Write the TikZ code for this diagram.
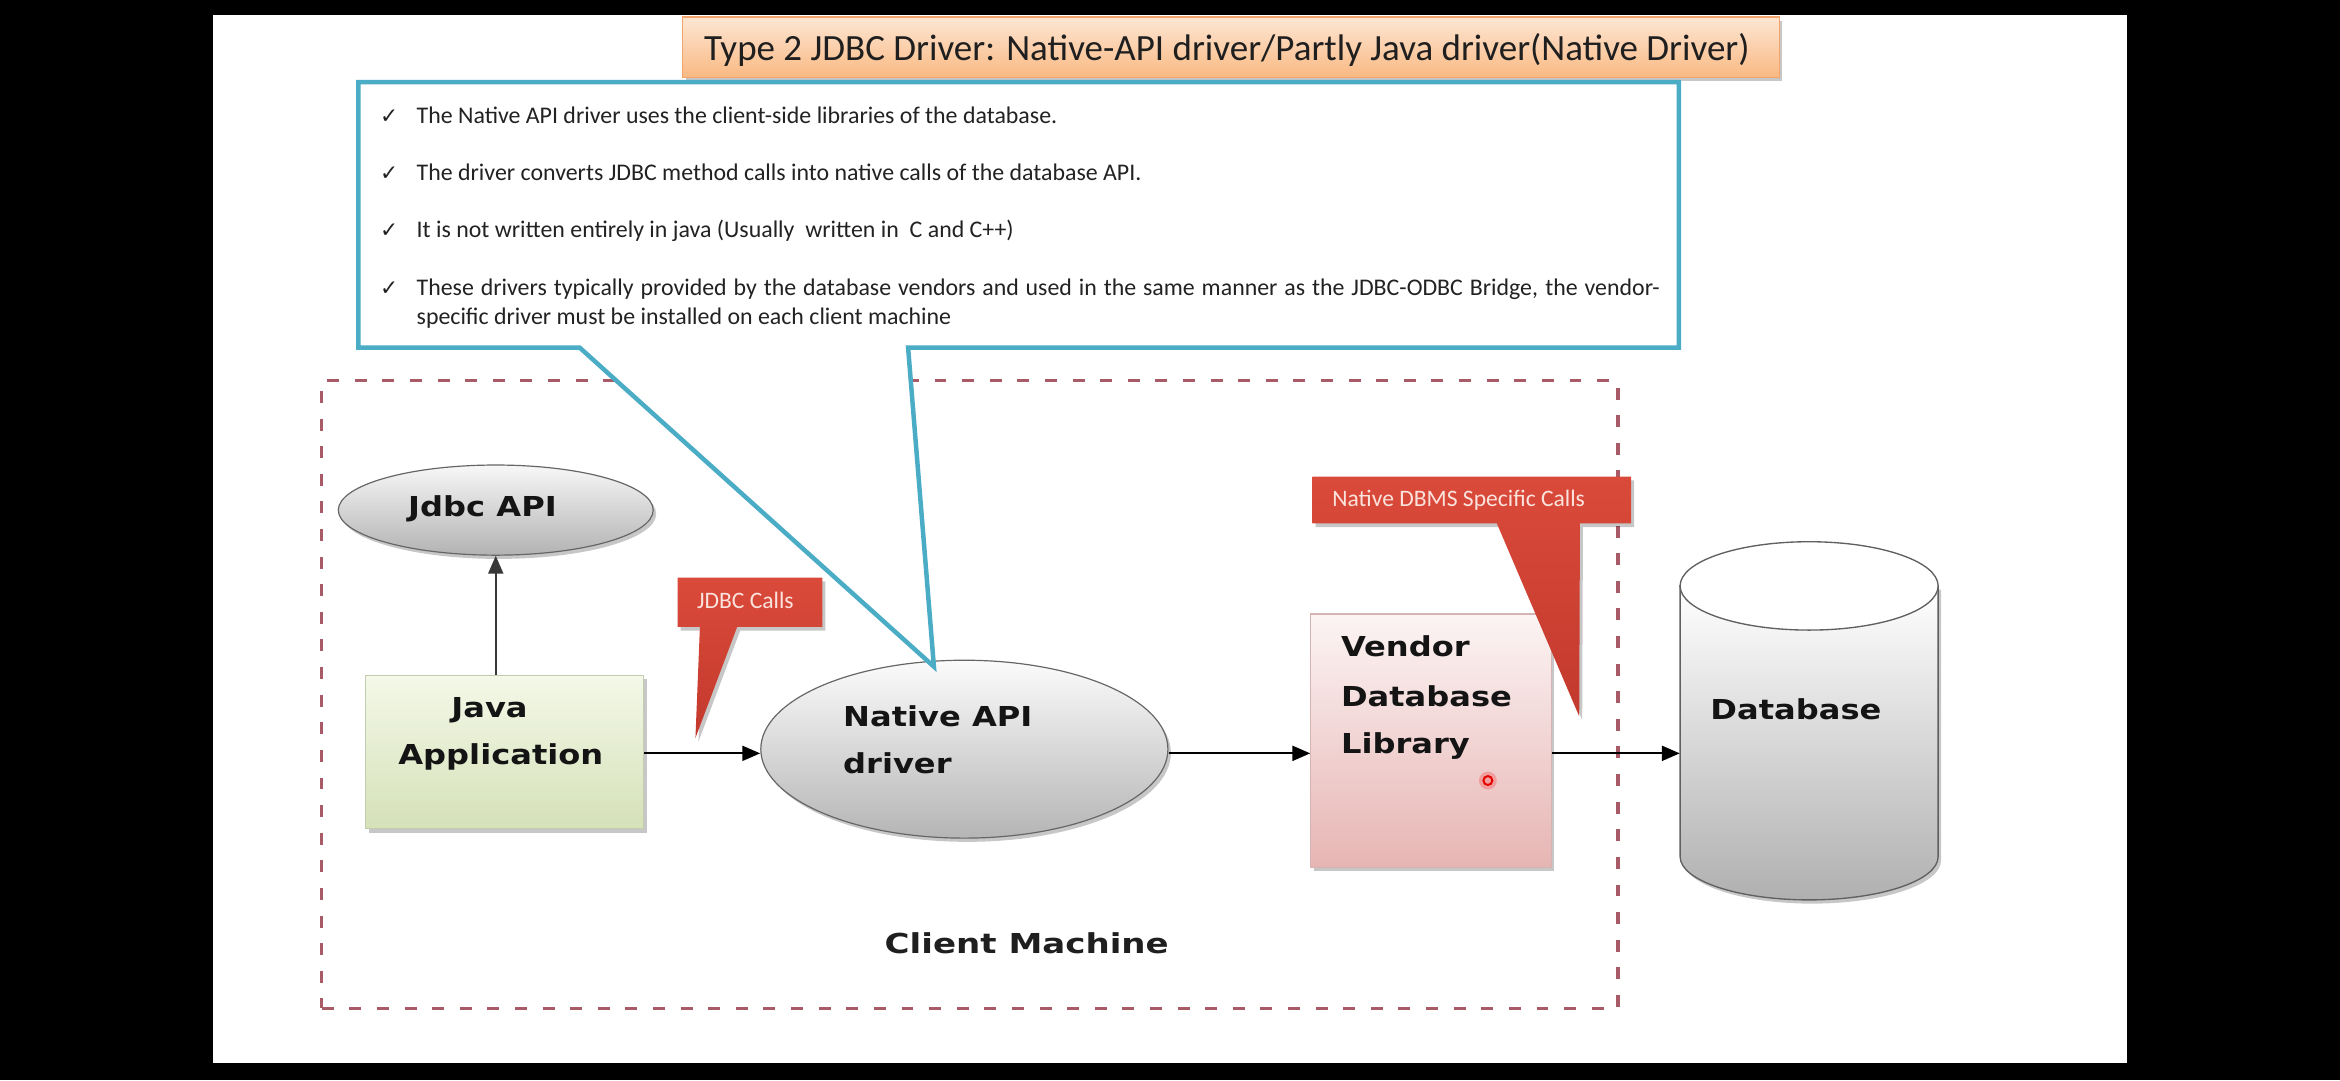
\documentclass[tikz,border=0pt]{standalone}
\usepackage{fontspec}
\setmainfont{Carlito}
\newfontfamily\lblfont{DejaVu Sans}[FakeStretch=1.17]
\newfontfamily\cmfont{DejaVu Sans}[FakeStretch=1.24]
\newfontfamily\chkfont{DejaVu Sans}
\usetikzlibrary{arrows.meta,shapes.geometric,shadows}
\definecolor{calblue}{HTML}{4BACC6}
\definecolor{calred}{HTML}{DA4A3A}
\definecolor{calreddark}{HTML}{C2392D}
\definecolor{redtext}{HTML}{FBE3DD}
\definecolor{dashred}{HTML}{A85A66}
\definecolor{titletop}{HTML}{FDE6D3}
\definecolor{titlebot}{HTML}{F9B983}
\definecolor{titleedge}{HTML}{F2A46A}
\definecolor{greentop}{HTML}{F4F8E8}
\definecolor{greenbot}{HTML}{D5E1B8}
\definecolor{greenedge}{HTML}{C4CCB0}
\definecolor{pinktop}{HTML}{FCF4F4}
\definecolor{pinkbot}{HTML}{E6B5B3}
\definecolor{pinkedge}{HTML}{D6B4B3}
\definecolor{txt}{HTML}{222222}
\begin{document}
\begin{tikzpicture}[x=1pt,y=-1pt,
  shadowed/.style={drop shadow={shadow xshift=2pt,shadow yshift=-2.5pt,opacity=0.22,fill=black}},
  lbl/.style={font=\lblfont\bfseries\fontsize{18.4pt}{22pt}\selectfont, text=black!92, inner sep=0pt},
  bullettxt/.style={font=\fontsize{16pt}{19.4pt}\selectfont, text=txt, inner sep=0pt, anchor=base west},
  chk/.style={font=\chkfont\fontsize{14.5pt}{16pt}\selectfont, text=txt, inner sep=0pt, anchor=base west},
  redtxt/.style={font=\fontsize{15.8pt}{19pt}\selectfont, text=redtext, inner sep=0pt, anchor=base west},
  redcall/.style={top color=calred, bottom color=calreddark, draw=none, shadowed},
  conn/.style={-{Triangle[length=12pt,width=10pt]}, line width=1.5pt, draw=black},
  grayell/.style={ellipse, draw=gray!80!black, line width=0.8pt, top color=gray!6, bottom color=gray!60, inner sep=0pt, shadowed},
]
\useasboundingbox (0,0) rectangle (1568,724);
\fill[black] (0,0) rectangle (1568,724);
\fill[white] (143,10) rectangle (1425,712);

% client machine frame
\node[draw=dashred, dash pattern=on 8pt off 10.5pt, line width=2.2pt, minimum width=868.5pt, minimum height=420.6pt, inner sep=0pt, anchor=north west] (client) at (214.5,254) {};
\node[font=\cmfont\bfseries\fontsize{18.4pt}{22pt}\selectfont, text=black!88, anchor=base, inner sep=0pt] (clientT) at (688,638.8) {Client Machine};

% title
\node[draw=titleedge, line width=0.8pt, top color=titletop, bottom color=titlebot, minimum width=735pt, minimum height=40.5pt, inner sep=0pt, anchor=north west, shadowed] (title) at (457,11) {};
\node[font=\fontsize{24.8pt}{30pt}\selectfont, text=black!88, anchor=base, inner sep=0pt] (titleT) at (822,40.2) {Type 2 JDBC Driver: Native-API driver/Partly Java driver(Native Driver)};

% diagram nodes
\node[grayell, minimum width=211pt, minimum height=60.4pt] (jdbc) at (332.2,341.8) {};
\node[lbl, anchor=base] (jdbcT) at (323.3,346.2) {Jdbc API};

\node[draw=greenedge, line width=0.8pt, top color=greentop, bottom color=greenbot, minimum width=186.4pt, minimum height=102.7pt, inner sep=0pt, anchor=north west, shadowed] (java) at (244.6,452.3) {};
\node[lbl, anchor=base] (javaT1) at (328,481) {Java};
\node[lbl, anchor=base] (javaT2) at (335.6,512.6) {Application};

\node[grayell, minimum width=272.8pt, minimum height=119.2pt, top color=gray!3, bottom color=gray!58] (native) at (646.2,502) {};
\node[lbl, anchor=base west] (nativeT1) at (564.8,487) {Native API};
\node[lbl, anchor=base west] (nativeT2) at (564.8,518.2) {driver};

\node[draw=pinkedge, line width=0.8pt, top color=pinktop, bottom color=pinkbot, minimum width=161pt, minimum height=169.8pt, inner sep=0pt, anchor=north west, shadowed] (vendor) at (878,411) {};
\node[lbl, anchor=base west] (vendorT1) at (898.4,440) {Vendor};
\node[lbl, anchor=base west] (vendorT2) at (898.4,473.5) {Database};
\node[lbl, anchor=base west] (vendorT3) at (898.4,504.8) {Library};

% database cylinder
\path[top color=white, bottom color=gray!62, draw=gray!75!black, line width=0.9pt, shadowed]
  (1125.8,392.6) -- (1125.8,574) .. controls (1125.8,590.0) and (1164.5,603) .. (1212.25,603)
  .. controls (1260.0,603) and (1298.7,590.0) .. (1298.7,574) -- (1298.7,392.6) -- cycle;
\draw[fill=white, draw=gray!75!black, line width=0.9pt] (1212.25,392.6) ellipse [x radius=86.45pt, y radius=29.6pt];
\node[inner sep=0pt, minimum width=172.9pt, minimum height=240pt] (db) at (1212.25,483) {};
\node[lbl, anchor=base] (dbT) at (1203.4,482) {Database};

% blue callout
\coordinate (ptip) at (625.8,446.7);
\draw[calblue, line width=3pt, fill=white, line join=miter]
  (240.2,55) -- (1125,55) -- (1125,233) -- (608.5,233) -- (ptip) -- (388.5,233) -- (240.2,233) -- cycle;

\node[chk] (c1) at (254.5,82.6) {✓};
\node[bullettxt] (b1) at (279,82.6) {The Native API driver uses the client-side libraries of the database.};
\node[chk] (c2) at (254.5,121.0) {✓};
\node[bullettxt] (b2) at (279,121.0) {The driver converts JDBC method calls into native calls of the database API.};
\node[chk] (c3) at (254.5,159.4) {✓};
\node[bullettxt] (b3) at (279,159.4) {It is not written entirely in java (Usually~ written in~ C and C++)};
\node[chk] (c4) at (254.5,197.7) {✓};
\node[bullettxt] (b4) at (279,197.7) {\makebox[833pt][s]{These drivers typically provided by the database vendors and used in the same manner as the JDBC-ODBC Bridge, the vendor-}};
\node[bullettxt] (b5) at (279,217.1) {specific driver must be installed on each client machine};

% connectors
\coordinate (ay) at (0,504.8);
\draw[conn, draw=black!78] (java.north -| jdbc.south) -- (jdbc.south);
\draw[conn] (java.east |- ay) -- (native.west |- ay);
\draw[conn] (native.east |- ay) -- (vendor.west |- ay);
\draw[conn] (vendor.east |- ay) -- (db.west |- ay);

% red callouts
\path[redcall] (454,387) -- (551,387) -- (551,420) -- (494,420) -- (466,494.5) -- (469,420) -- (454,420) -- cycle;
\node[redtxt] (jdbcCalls) at (466.9,407.6) {JDBC Calls};
\path[redcall] (879.6,319.4) -- (1093,319.4) -- (1093,350.7) -- (1058.7,350.7) -- (1058.2,480) -- (1003,350.7) -- (879.6,350.7) -- cycle;
\node[redtxt] (dbmsCalls) at (892.6,339.5) {Native DBMS Specific Calls};

% cursor marker
\fill[red, opacity=0.22] (997,523) circle[radius=6pt];
\draw[red!90!black, line width=1.3pt] (997,523) circle[radius=3pt];
\end{tikzpicture}
\end{document}
